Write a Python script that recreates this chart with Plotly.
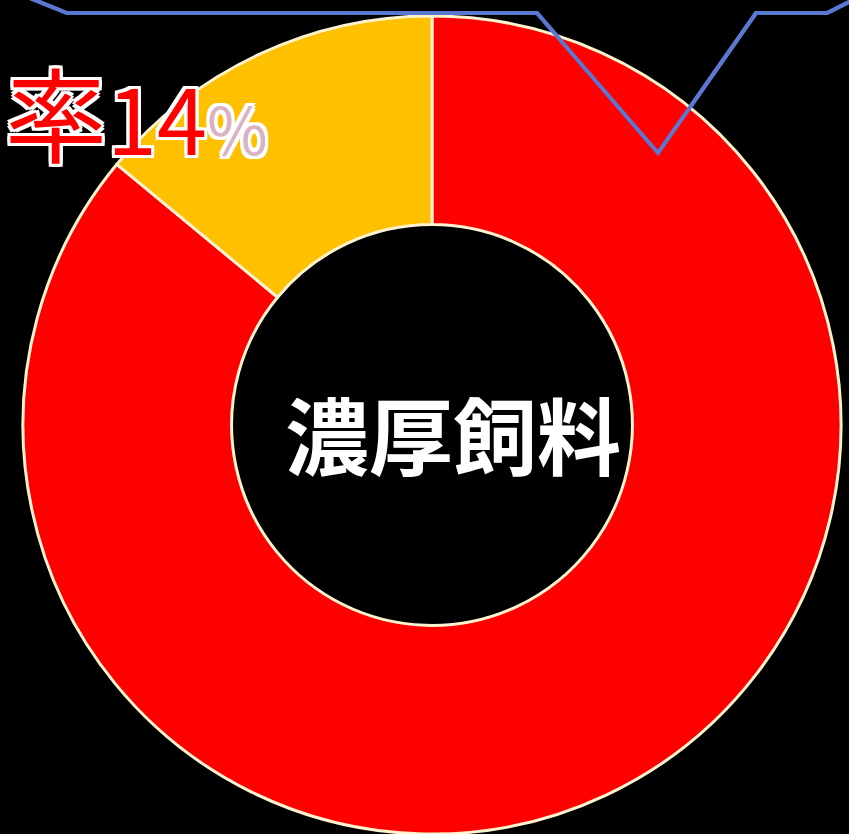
import plotly.graph_objects as go

# Donut data (order chosen so 自給 sits just counter-clockwise of 12 o'clock)
categories = ["輸入", "自給"]
shares = [86, 14]
slice_colors = ["#FF0000", "#FFC000"]
center_label = "濃厚飼料"
rate_prefix = "率"
rate_value = "14"
rate_unit = "%"

# Overlapping line series (another chart's line, partly visible at top)
line_x = [20, 67, 537, 658, 756, 827, 862]
line_y = [82.7, 80, 80, 60, 80, 80, 82.5]

W, H = 849, 834
Y_TOP, Y_BOT = 81.86, -37.29

fig = go.Figure()

fig.add_trace(go.Scatter(
    x=line_x, y=line_y, mode="lines",
    line=dict(color="#5A78D0", width=4),
    hoverinfo="skip", showlegend=False,
))

fig.add_trace(go.Pie(
    labels=categories, values=shares, sort=False,
    direction="clockwise", rotation=0,
    hole=0.49,
    marker=dict(colors=slice_colors, line=dict(color="#FFF2CF", width=3)),
    textinfo="none", hoverinfo="label+percent", showlegend=False,
    domain=dict(x=[23 / W, 841 / W], y=[0, (H - 16) / H]),
))

# line drawn above the donut, through the same axes
path = "M " + " L ".join(f"{x},{y}" for x, y in zip(line_x, line_y))
fig.add_shape(type="path", path=path, xref="x", yref="y", layer="above",
              line=dict(color="#5A78D0", width=4))

fig.add_annotation(
    text=center_label, x=453 / W, y=1 - 432 / H, xref="paper", yref="paper",
    xanchor="center", yanchor="middle", showarrow=False,
    font=dict(family="Noto Sans CJK JP", size=84, color="#FFFFFF", weight="bold"),
)

fig.add_annotation(
    text=(f"<span style='font-size:102px'>{rate_prefix}</span>"
          f"<span style='font-size:90px'>{rate_value}</span>"
          f"<span style='font-size:66px;fill:#D9B3C4'>{rate_unit}</span>"),
    x=3 / W, y=1 - 110 / H, xref="paper", yref="paper",
    xanchor="left", yanchor="middle", showarrow=False,
    font=dict(family="Noto Sans CJK JP", size=90, color="#FF0000",
              shadow="3px 3px 0 #fff, -3px -3px 0 #fff, 3px -3px 0 #fff, -3px 3px 0 #fff, 0 3px 0 #fff, 0 -3px 0 #fff, 3px 0 0 #fff, -3px 0 0 #fff"),
)

fig.update_layout(
    width=W, height=H,
    margin=dict(l=0, r=0, t=0, b=0),
    paper_bgcolor="#000000", plot_bgcolor="rgba(0,0,0,0)",
    xaxis=dict(range=[0, W], visible=False, fixedrange=True),
    yaxis=dict(range=[Y_BOT, Y_TOP], visible=False, fixedrange=True),
)

fig.write_html(
    "out.html",
    config={"displayModeBar": False},
    post_script="document.body.style.margin='0';document.body.style.background='#000';document.body.style.overflow='hidden';",
)
